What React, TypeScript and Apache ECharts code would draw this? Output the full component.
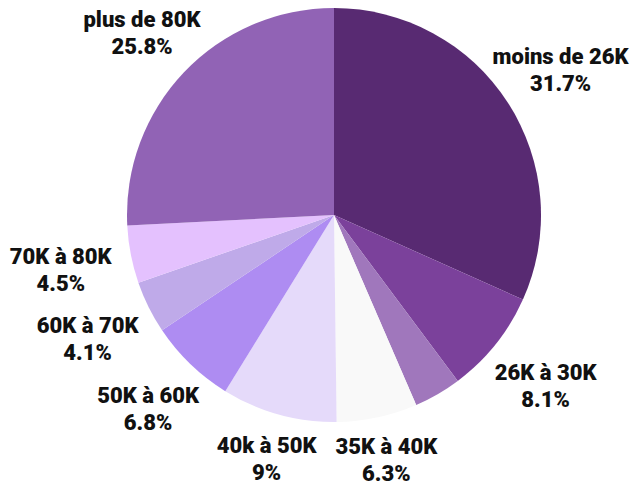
import React, { useEffect, useRef } from "react";
import * as echarts from "echarts";

const categories = [
  "moins de 26K",
  "26K à 30K",
  "30K à 35K",
  "35K à 40K",
  "40k à 50K",
  "50K à 60K",
  "60K à 70K",
  "70K à 80K",
  "plus de 80K",
];
const values = [31.7, 8.1, 3.7, 6.3, 9, 6.8, 4.1, 4.5, 25.8];
const hiddenLabels = ["30K à 35K"];
const colors = [
  "#582a72",
  "#7b419b",
  "#a077bc",
  "#f9f9f9",
  "#e5dafa",
  "#ae8cf2",
  "#bfaae9",
  "#e4c1fe",
  "#9163b5",
];

export default function App() {
  const ref = useRef<HTMLDivElement>(null);
  useEffect(() => {
    document.body.style.margin = "0";
    const chart = echarts.init(ref.current!, null, { renderer: "svg" });
    chart.setOption({
      animation: false,
      series: [
        {
          type: "pie",
          center: [334, 215],
          radius: 207,
          startAngle: 90,
          clockwise: true,
          avoidLabelOverlap: false,
          data: categories.map((name, i) => ({
            name,
            value: values[i],
            itemStyle: { color: colors[i] },
            label: { show: !hiddenLabels.includes(name) },
          })),
          label: {
            position: "outside",
            formatter: (p: any) => `${p.name}\n${p.value}%`,
            fontFamily: "Roboto",
            fontWeight: 900,
            fontSize: 22,
            lineHeight: 27,
            color: "#111111",
          },
          labelLine: {
            show: true,
            length: 10,
            length2: 0,
            lineStyle: { opacity: 0 },
          },
          emphasis: { disabled: true },
          labelLayout: (p: any) => {
            const pts = p.labelLinePoints;
            if (!pts || pts.length < 2) return {};
            const [x0, y0] = pts[0];
            const [x1, y1] = pts[1];
            const len = Math.hypot(x1 - x0, y1 - y0) || 1;
            const dx = (x1 - x0) / len;
            const dy = (y1 - y0) / len;
            const d = 36 + 36 * Math.abs(dx) - (dy < 0 ? -dy * 6 : 0);
            return {
              x: x0 + dx * d,
              y: y0 + dy * d + 3 * (1 - Math.abs(dy)),
              align: "center",
              verticalAlign: "middle",
            };
          },
        },
      ],
    });
    return () => chart.dispose();
  }, []);
  return <div ref={ref} style={{ width: 638, height: 485 }} />;
}
